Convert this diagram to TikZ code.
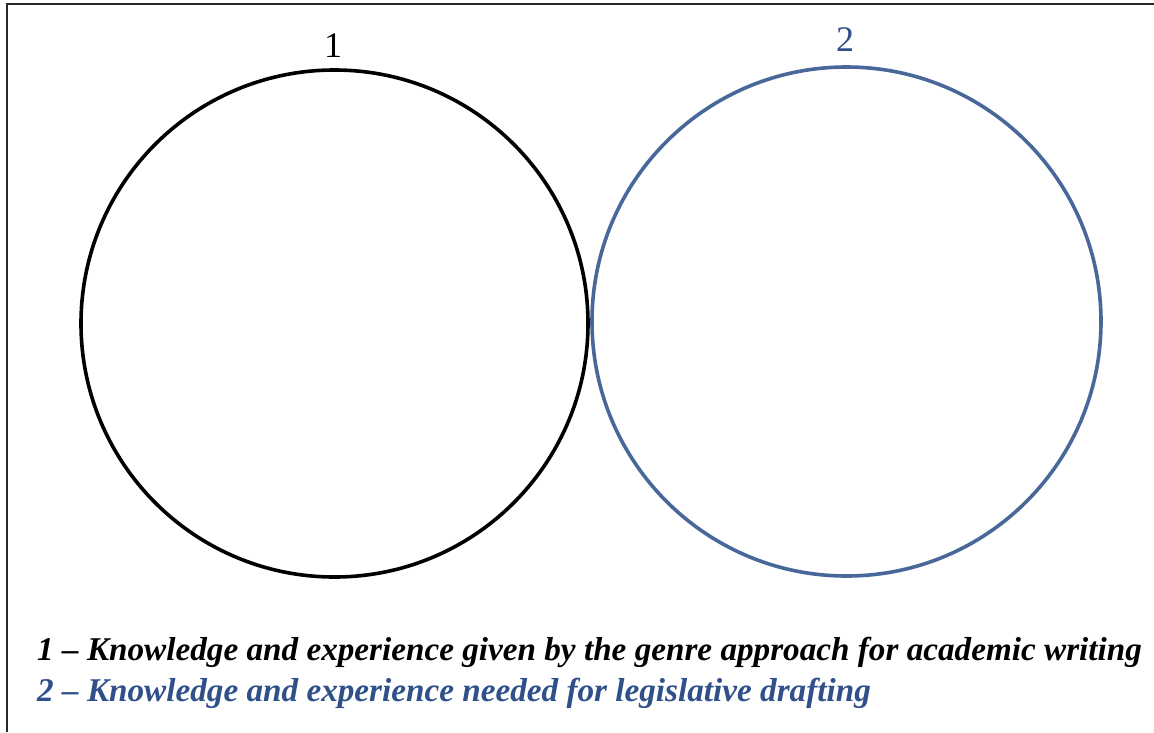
\documentclass[tikz,border=0pt]{standalone}
\usepackage{fontspec}
\setmainfont{Liberation Serif}
\definecolor{frame}{RGB}{40,40,40}
\definecolor{cblue}{RGB}{72,104,154}
\definecolor{tblue}{RGB}{48,80,138}
\begin{document}
\begin{tikzpicture}[x=1pt,y=-1pt,
  ring/.style={line width=3.6pt},
  numlabel/.style={font=\fontsize{36}{36}\selectfont, inner sep=0pt},
  legend/.style={font=\fontsize{33.2}{33.2}\selectfont\bfseries\itshape, inner sep=0pt, anchor=base west}]
\useasboundingbox (0,0) rectangle (1154,732);
\fill[white] (0,0) rectangle (1154,732);
\coordinate (tl) at (7,4);
\coordinate (tr) at (1154,4);
\coordinate (bl) at (7,732);
\draw[frame, line width=2pt] (tr) -- (tl) -- (bl);
\node[draw=black, ring, circle, minimum size=507pt, inner sep=0pt] (c1) at (334.5,323.5) {};
\node[draw=cblue, ring, circle, minimum size=509pt, inner sep=0pt] (c2) at (846.5,321.5) {};
\node[numlabel, anchor=base] (n1) at (333,57) {1};
\node[numlabel, anchor=base, text=tblue] (n2) at (845,51) {2};
\node[legend] (l1) at (37,660) {1 -- Knowledge and experience given by the genre approach for academic writing};
\node[legend, text=tblue] (l2) at (37,701) {2 -- Knowledge and experience needed for legislative drafting};
\end{tikzpicture}
\end{document}
